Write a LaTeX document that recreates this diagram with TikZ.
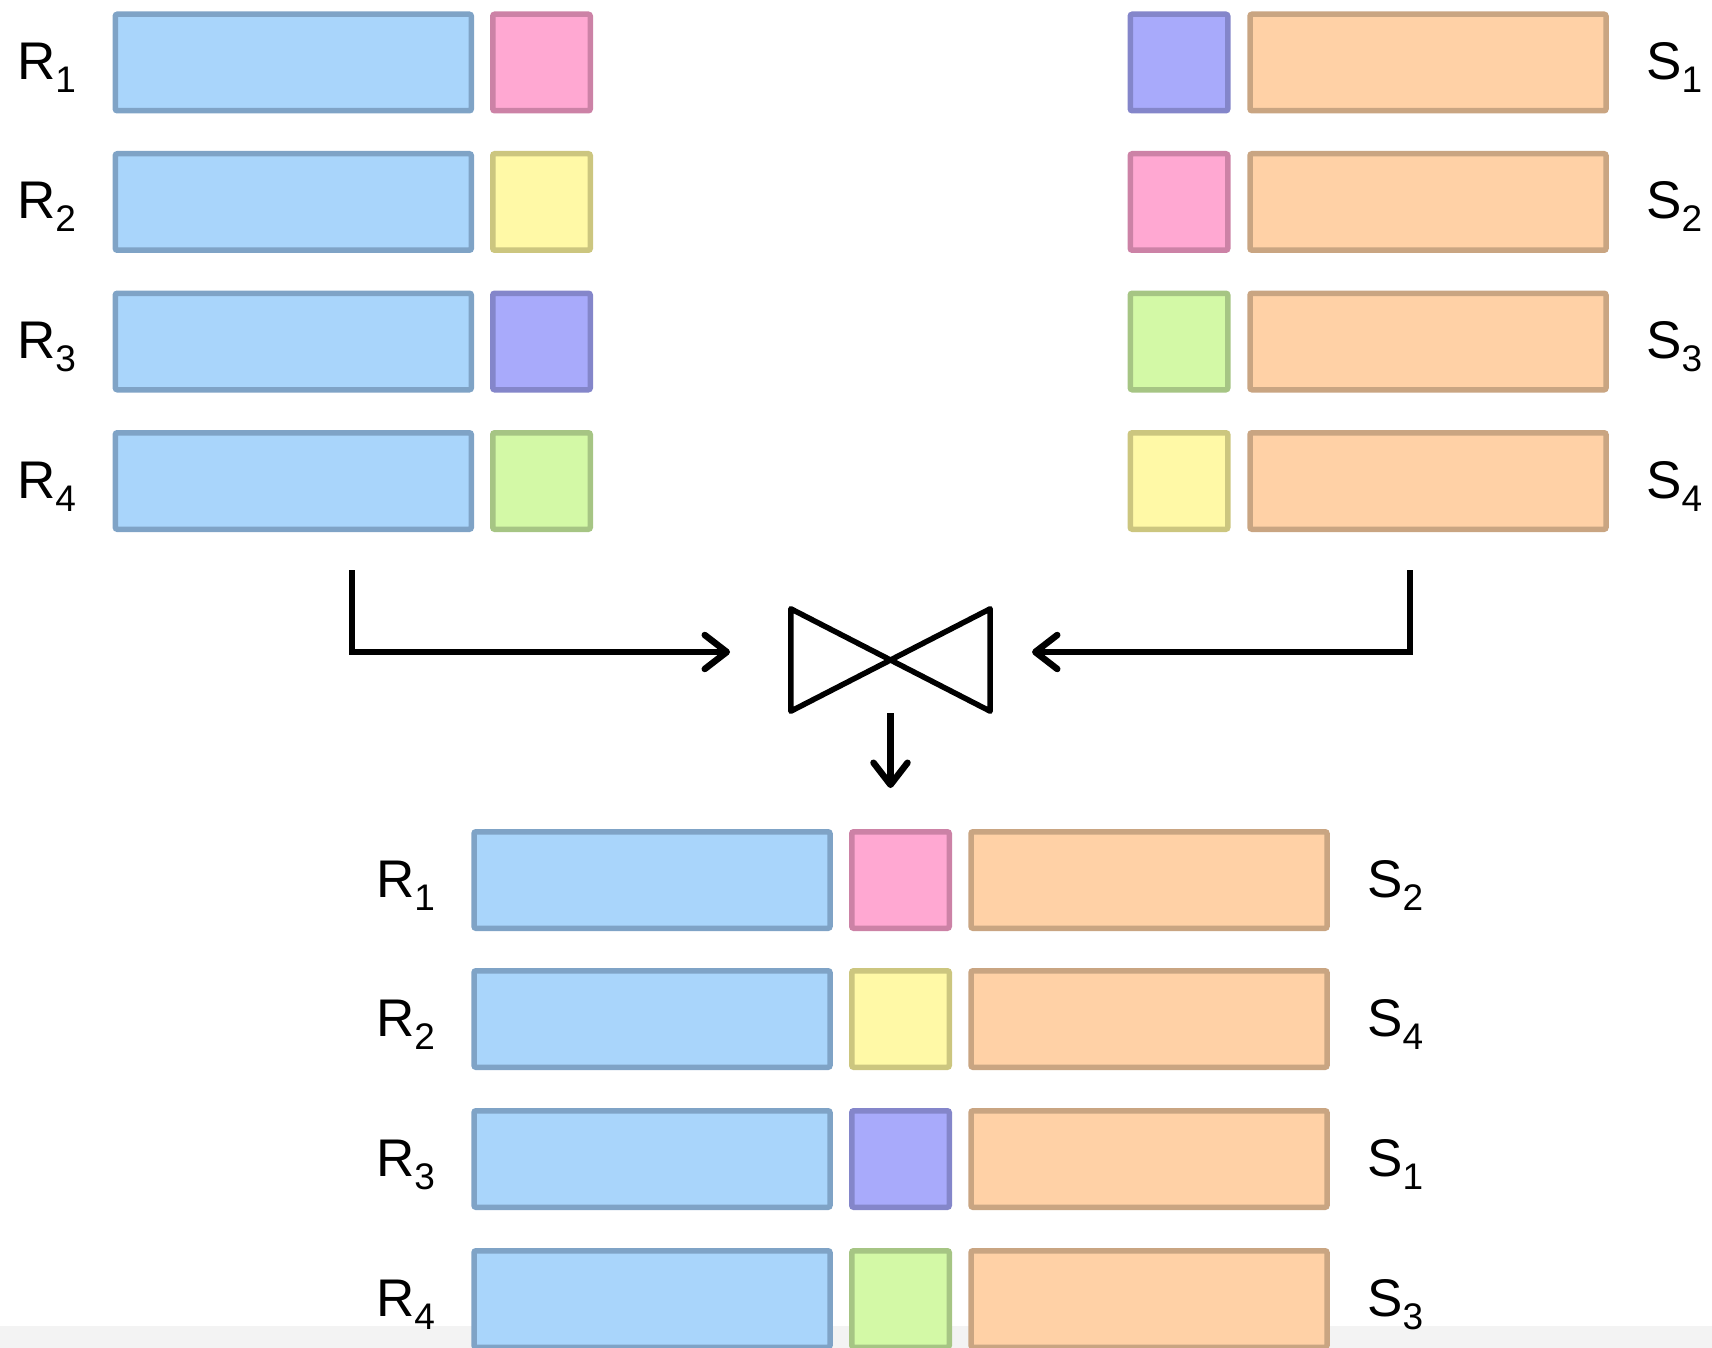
\documentclass[tikz,border=0pt]{standalone}
\usepackage{fontspec}
\setmainfont{Liberation Sans}
\usetikzlibrary{arrows.meta}

\definecolor{blueF}{HTML}{A9D5FB}\definecolor{blueD}{HTML}{7FA3C6}
\definecolor{pinkF}{HTML}{FFA8D2}\definecolor{pinkD}{HTML}{CC82A6}
\definecolor{yelF}{HTML}{FFF9A6}\definecolor{yelD}{HTML}{CCC67F}
\definecolor{purF}{HTML}{A8AAFB}\definecolor{purD}{HTML}{8486CA}
\definecolor{grnF}{HTML}{D3F9A6}\definecolor{grnD}{HTML}{A6C584}
\definecolor{orgF}{HTML}{FFD1A6}\definecolor{orgD}{HTML}{C9A582}
\definecolor{band}{HTML}{F3F3F3}

% relation label with a subscript index
\newcommand{\lbl}[2]{{\fontsize{53}{60}\selectfont #1\raisebox{-13pt}{\fontsize{37}{40}\selectfont #2}}}

\tikzset{
  cell/.style={rectangle, draw, line width=5.5pt, rounded corners=2pt, inner sep=0pt,
               minimum height=96.5pt},
  wide/.style={cell, minimum width=356pt},
  key/.style={cell, minimum width=97.5pt},
  blue/.style={wide, fill=blueF, draw=blueD},
  orange/.style={wide, fill=orgF, draw=orgD},
  kpink/.style={key, fill=pinkF, draw=pinkD},
  kyel/.style={key, fill=yelF, draw=yelD},
  kpur/.style={key, fill=purF, draw=purD},
  kgrn/.style={key, fill=grnF, draw=grnD},
  tag/.style={anchor=base west, inner sep=0pt},
  flow/.style={line width=6.5pt, -{Straight Barb[length=22pt,width=34pt,round]}},
}

\begin{document}
\begin{tikzpicture}[x=1pt, y=-1pt]
\useasboundingbox (0,0) rectangle (1712,1348);
\fill[band] (0,1326) rectangle (1712,1348);

% relation R
\foreach \i/\y/\k in {1/62.5/kpink, 2/202/kyel, 3/341.5/kpur, 4/481/kgrn} {
  \node[blue] (r\i) at (293.3,\y) {};
  \node[\k] (rk\i) at (541.5,\y) {};
  \node[tag] (rl\i) at (17,\y+17) {\lbl{R}{\i}};
}

% relation S
\foreach \i/\y/\k in {1/62.5/kpur, 2/202/kpink, 3/341.5/kgrn, 4/481/kyel} {
  \node[\k] (sk\i) at (1179,\y) {};
  \node[orange] (s\i) at (1428,\y) {};
  \node[tag] (sl\i) at (1646,\y+17) {\lbl{S}{\i}};
}

% join operator
\node[minimum width=199pt, minimum height=102pt, inner sep=0pt] (join) at (890.5,660) {};
\draw[line width=5.5pt, line join=round]
  (join.north west) -- (join.south east) -- (join.north east) -- (join.south west) -- cycle;

\coordinate (lstart) at (352,570);
\coordinate (lend) at (730,652);
\coordinate (rstart) at (1410,570);
\coordinate (rend) at (1032,652);
\coordinate (dend) at (890.5,788);

\draw[flow] (lstart) |- (lend);
\draw[flow] (rstart) |- (rend);
\draw[flow] ([yshift=-2pt]join.south) -- (dend);

% joined result
\foreach \i/\y/\k/\s in {1/880/kpink/2, 2/1019/kyel/4, 3/1159/kpur/1, 4/1299/kgrn/3} {
  \node[blue] (jr\i) at (652,\y) {};
  \node[\k] (jk\i) at (900.5,\y) {};
  \node[orange] (js\i) at (1149,\y) {};
  \node[tag] (jrl\i) at (376,\y+17) {\lbl{R}{\i}};
  \node[tag] (jsl\i) at (1367,\y+17) {\lbl{S}{\s}};
}
\end{tikzpicture}
\end{document}
